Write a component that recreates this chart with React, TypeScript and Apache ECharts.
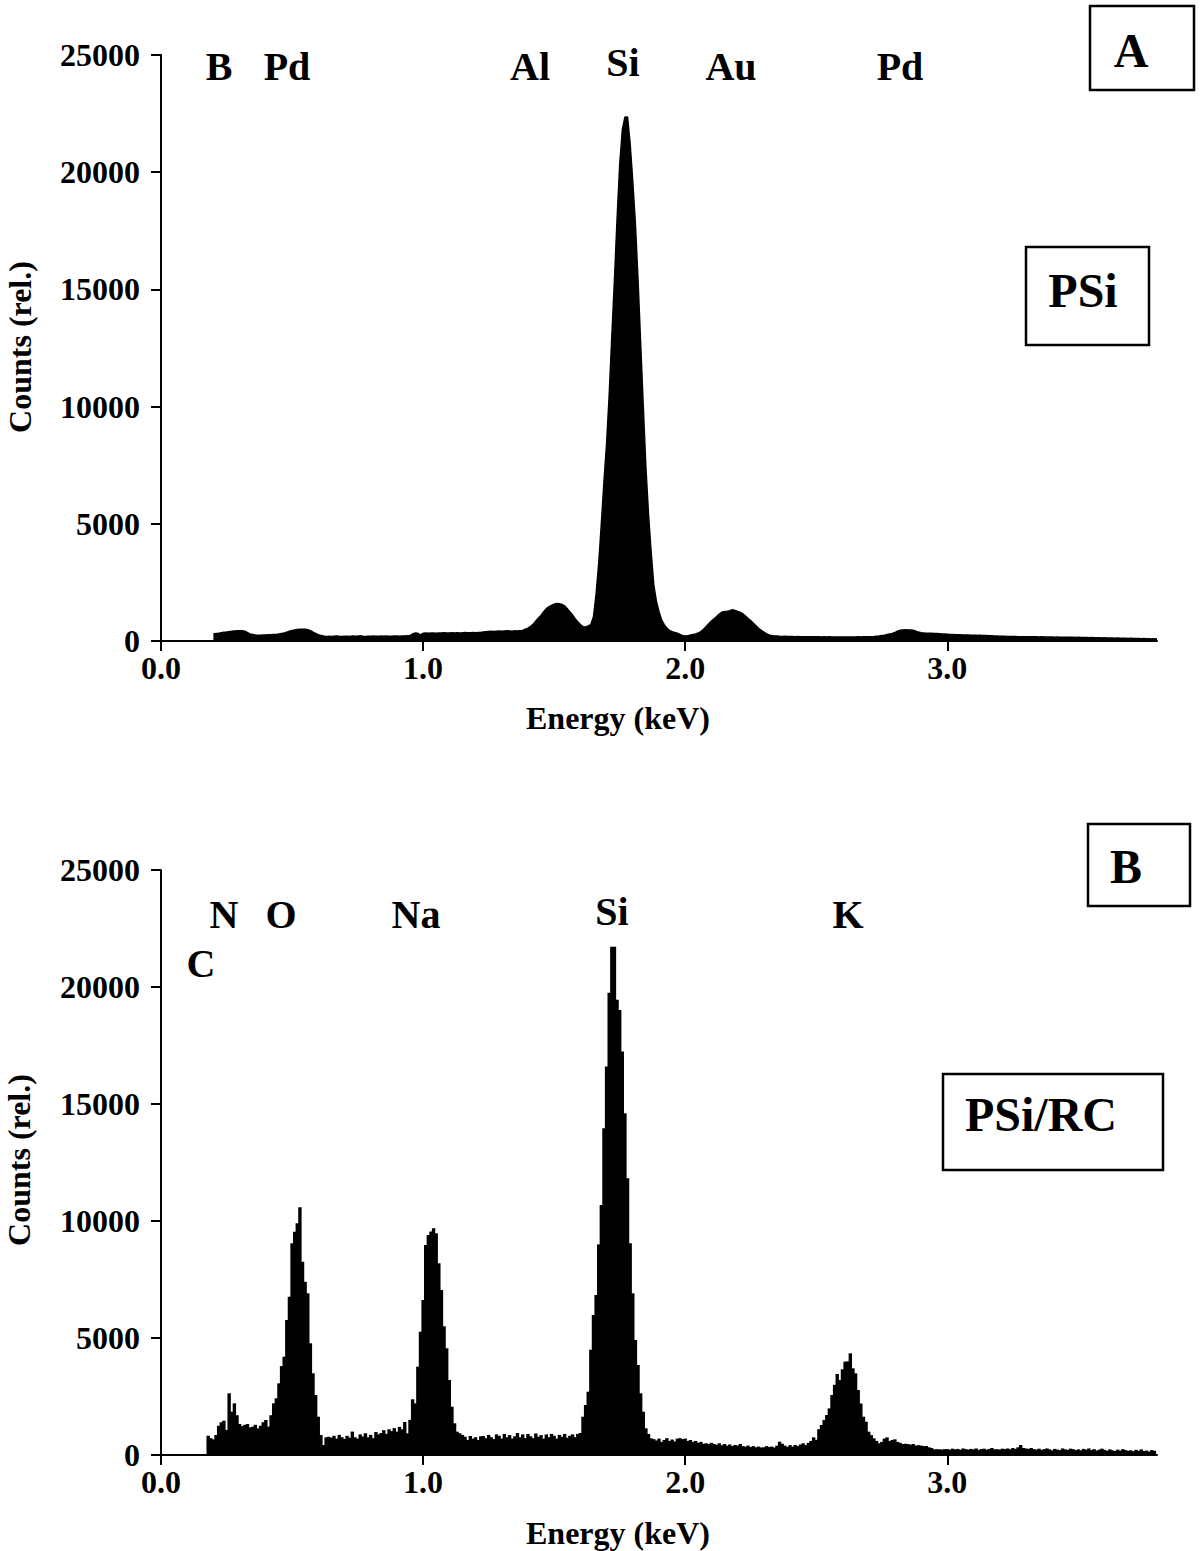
import React, { useEffect, useRef } from "react";
import * as echarts from "echarts";

// Channel calibration (keV)
const channelWidth = 0.01;
const startA = 0.2;
const startB = 0.18;

// Panel A – PSi spectrum (counts per 0.01 keV channel, 0.20 … 3.80 keV)
const countsA = [
  300, 320, 330, 350, 370, 380, 400, 420, 430, 440,
  440, 440, 420, 360, 300, 280, 260, 250, 250, 260,
  260, 270, 270, 280, 280, 300, 320, 340, 380, 420,
  450, 470, 490, 500, 500, 500, 480, 440, 380, 320,
  270, 240, 210, 195, 200, 190, 200, 210, 200, 195,
  200, 205, 195, 210, 200, 200, 220, 200, 195, 205,
  200, 210, 200, 205, 215, 200, 210, 205, 200, 215,
  210, 205, 215, 210, 220, 225, 300, 340, 330, 260,
  330, 340, 330, 345, 340, 335, 345, 340, 350, 340,
  345, 350, 340, 355, 345, 350, 360, 350, 355, 360,
  350, 365, 360, 380, 400, 410, 420, 410, 420, 430,
  420, 430, 440, 430, 420, 440, 430, 440, 450, 500,
  550, 620, 720, 850, 980, 1100, 1250, 1380, 1460, 1520,
  1570, 1600, 1590, 1560, 1500, 1380, 1250, 1110, 950, 820,
  700, 610, 600, 640, 700, 1034, 2000, 3300, 5000, 6800,
  8400, 10500, 13000, 15400, 18000, 20300, 21800, 22350, 22350, 21200,
  19600, 17800, 15400, 12700, 10000, 7400, 5400, 3800, 2400, 1700,
  1250, 900, 700, 550, 450, 400, 360, 330, 280, 230,
  215, 220, 260, 280, 300, 340, 400, 500, 620, 740,
  850, 950, 1040, 1150, 1230, 1260, 1270, 1290, 1330, 1300,
  1260, 1220, 1160, 1060, 960, 870, 760, 650, 540, 450,
  380, 310, 260, 230, 215, 210, 200, 195, 200, 190,
  195, 190, 185, 190, 185, 180, 185, 180, 185, 180,
  180, 185, 175, 180, 175, 180, 175, 170, 175, 170,
  175, 170, 175, 170, 175, 170, 180, 175, 180, 185,
  180, 185, 190, 200, 210, 230, 250, 280, 300, 320,
  360, 420, 460, 470, 480, 470, 470, 460, 420, 380,
  350, 340, 330, 330, 330, 320, 320, 310, 300, 300,
  290, 280, 280, 270, 270, 265, 260, 260, 256, 250,
  250, 245, 240, 240, 235, 230, 225, 220, 215, 210,
  205, 200, 200, 195, 195, 190, 190, 185, 185, 185,
  185, 180, 185, 180, 180, 175, 180, 175, 170, 175,
  170, 165, 170, 165, 160, 165, 160, 155, 160, 150,
  155, 150, 145, 150, 140, 145, 140, 135, 140, 130,
  135, 130, 125, 130, 120, 125, 120, 115, 120, 110,
  115, 110, 105, 110, 100, 105, 95, 100, 90, 95,
  90,
];

// Panel B – PSi/RC spectrum (counts per 0.01 keV channel, 0.18 … 3.79 keV)
const countsB = [
  825, 720,
  670, 855, 1250, 1400, 1467, 1070, 2637, 1852, 2208, 1700,
  1325, 1240, 1290, 1325, 1180, 1210, 1290, 1140, 1250, 1400,
  1496, 1210, 1700, 2208, 2422, 3063, 3800, 4202, 5770, 6766,
  9048, 9544, 9903, 10587, 8262, 7400, 6911, 4774, 3492, 2564,
  1637, 855, 427, 755, 780, 740, 820, 700, 860, 760,
  690, 820, 740, 1000, 760, 700, 880, 790, 930, 760,
  860, 720, 980, 880, 940, 1060, 900, 1100, 1020, 1150,
  1000, 1200, 1100, 1410, 926, 1500, 2380, 2208, 3774, 5270,
  6625, 8975, 9403, 9550, 9689, 9474, 8193, 7052, 5500, 4560,
  3206, 2064, 1355, 996, 926, 860, 783, 641, 812, 700,
  760, 640, 800, 810, 720, 860, 760, 680, 880, 820,
  700, 900, 760, 850, 700, 800, 940, 760, 880, 720,
  900, 800, 720, 920, 780, 850, 700, 880, 760, 900,
  820, 700, 860, 780, 900, 740, 820, 880, 760, 900,
  940, 1637, 2137, 2706, 4500, 5984, 6838, 9000, 10685, 13960,
  16600, 19750, 21720, 21720, 19450, 19020, 17240, 14600, 11830, 9048,
  6911, 4915, 3847, 2637, 1852, 1140, 900, 712, 680, 620,
  700, 560, 640, 720, 600, 660, 580, 700, 720, 680,
  700, 600, 640, 560, 600, 520, 560, 480, 500, 470,
  520, 470, 440, 500, 420, 470, 400, 450, 380, 430,
  400, 470, 380, 356, 400, 340, 380, 330, 360, 320,
  330, 380, 340, 360, 320, 400, 570, 480, 400, 350,
  420, 360, 427, 380, 450, 500, 420, 520, 600, 755,
  650, 1100, 1282, 1500, 1710, 1994, 2564, 3000, 3462, 3206,
  3662, 3989, 4000, 4345, 3704, 3490, 2778, 2200, 1637, 1424,
  997, 850, 712, 600, 500, 560, 700, 755, 600, 640,
  670, 560, 520, 470, 480, 470, 440, 470, 400, 420,
  400, 380, 385, 330, 300, 243, 250, 240, 230, 250,
  250, 230, 270, 240, 260, 220, 280, 250, 230, 260,
  240, 280, 220, 250, 270, 230, 260, 300, 240, 250,
  230, 270, 250, 280, 240, 300, 260, 330, 427, 300,
  280, 260, 300, 250, 230, 270, 220, 250, 280, 240,
  200, 260, 230, 210, 280, 240, 220, 270, 250, 210,
  240, 200, 260, 230, 280, 210, 250, 190, 230, 270,
  220, 180, 240, 200, 170, 230, 190, 250, 210, 180,
  200, 160, 220, 180, 240, 170, 190, 150, 210, 180,
];

const xTickValues = [0, 1, 2, 3];
const xMax = 3.8;
const yMax = 25000;
const yInterval = 5000;

const elementsA = ["B", "Pd", "Al", "Si", "Au", "Pd"];
const elementsB = ["N", "O", "Na", "Si", "K", "C"];
const panelTitles = ["A", "B"];
const sampleNames = ["PSi", "PSi/RC"];
const xAxisTitle = "Energy (keV)";
const yAxisTitle = "Counts (rel.)";

const FONT = "'Liberation Serif', 'Times New Roman', serif";

function toPairs(start: number, counts: number[]) {
  return counts.map((c, i) => [+(start + i * channelWidth).toFixed(2), c]);
}

export default function App() {
  const ref = useRef<HTMLDivElement>(null);

  useEffect(() => {
    if (!ref.current) return;
    const chart = echarts.init(ref.current, undefined, { renderer: "svg" });

    const axisLineStyle = { color: "#000", width: 2 };
    const makeX = (gridIndex: number) => ({
      type: "value",
      gridIndex,
      min: 0,
      max: xMax,
      axisLine: { show: true, onZero: false, lineStyle: axisLineStyle },
      axisTick: {
        show: true,
        length: 10,
        inside: false,
        customValues: xTickValues,
        lineStyle: axisLineStyle,
      },
      axisLabel: {
        customValues: xTickValues,
        formatter: (v: number) => v.toFixed(1),
        fontFamily: FONT,
        fontWeight: "bold",
        fontSize: 32,
        color: "#000",
        margin: 11,
      },
      splitLine: { show: false },
    });
    const makeY = (gridIndex: number) => ({
      type: "value",
      gridIndex,
      min: 0,
      max: yMax,
      interval: yInterval,
      axisLine: { show: true, lineStyle: axisLineStyle },
      axisTick: { show: true, length: 10, inside: false, lineStyle: axisLineStyle },
      axisLabel: {
        formatter: (v: number) => String(v),
        fontFamily: FONT,
        fontWeight: "bold",
        fontSize: 32,
        color: "#000",
        margin: 21,
      },
      splitLine: { show: false },
    });

    const txt = (text: string, x: number, y: number, size: number, extra: any = {}) => ({
      type: "text",
      x,
      y,
      ...extra,
      style: {
        text,
        fill: "#000",
        font: `bold ${size}px ${FONT}`,
        textAlign: "center",
        textVerticalAlign: "middle",
      },
    });
    const box = (x: number, y: number, w: number, h: number) => ({
      type: "rect",
      shape: { x, y, width: w, height: h },
      style: { fill: "none", stroke: "#000", lineWidth: 2.5 },
    });

    const posA = [
      [219, 66], [287, 66], [530, 66], [623, 62], [731, 66], [900, 66],
    ];
    const posB = [
      [224, 914], [281, 914], [416, 914], [612, 911], [848, 914], [201, 963],
    ];

    const graphics: any[] = [
      ...elementsA.map((t, i) => txt(t, posA[i][0], posA[i][1], 40)),
      ...elementsB.map((t, i) => txt(t, posB[i][0], posB[i][1], 40)),
      box(1090, 6, 104, 84),
      txt(panelTitles[0], 1131, 50, 48),
      box(1026, 247, 123, 98),
      txt(sampleNames[0], 1083, 290, 48),
      box(1088, 824, 102, 82),
      txt(panelTitles[1], 1126, 866, 48),
      box(943, 1074, 220, 96),
      txt(sampleNames[1], 1041, 1114, 48),
      txt(xAxisTitle, 618, 718, 32),
      txt(xAxisTitle, 618, 1533, 32),
      txt(yAxisTitle, 20, 347, 32, { rotation: Math.PI / 2 }),
      txt(yAxisTitle, 19, 1160, 32, { rotation: Math.PI / 2 }),
    ];

    chart.setOption({
      animation: false,
      backgroundColor: "#fff",
      grid: [
        { left: 161, top: 55, width: 996, height: 586 },
        { left: 161, top: 870, width: 996, height: 585 },
      ],
      xAxis: [makeX(0), makeX(1)],
      yAxis: [makeY(0), makeY(1)],
      series: [
        {
          name: "PSi",
          type: "line",
          xAxisIndex: 0,
          yAxisIndex: 0,
          data: toPairs(startA, countsA),
          showSymbol: false,
          symbol: "none",
          lineStyle: { color: "#000", width: 1.5 },
          areaStyle: { color: "#000", opacity: 1 },
          z: 1,
        },
        {
          name: "PSi/RC",
          type: "bar",
          xAxisIndex: 1,
          yAxisIndex: 1,
          data: toPairs(startB, countsB),
          barWidth: 3.4,
          itemStyle: { color: "#000" },
          z: 1,
        },
      ],
      graphic: graphics,
    });

    return () => chart.dispose();
  }, []);

  return (
    <div
      ref={ref}
      style={{ position: "absolute", left: 0, top: 0, width: 1200, height: 1551 }}
    />
  );
}
